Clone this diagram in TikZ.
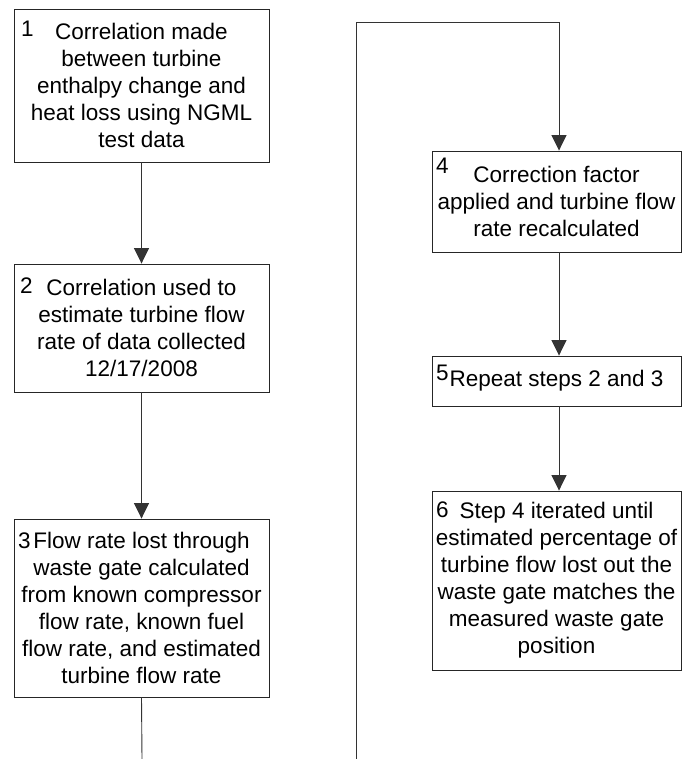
\documentclass[tikz,border=0pt]{standalone}
\usepackage{fontspec}
\setmainfont{Liberation Sans}
\usetikzlibrary{arrows.meta}
\begin{document}
\begin{tikzpicture}[x=1pt,y=-1pt,
  stepbox/.style={draw=black!85, line width=0.9pt, inner sep=0pt, align=center,
    font=\fontsize{22.5}{27}\selectfont},
  stepnum/.style={anchor=base west, inner sep=0pt, font=\fontsize{22.5}{27}\selectfont},
  flow/.style={draw=black!80, line width=0.9pt},
  arr/.style={flow, -{Triangle[width=15pt,length=15.5pt]}}]
\useasboundingbox (0,0) rectangle (682,759);

% left column
\node[stepbox, minimum width=255pt, minimum height=153pt] (b1) at (141.5,85.5)
  {Correlation made\\between turbine\\enthalpy change and\\heat loss using NGML\\test data};
\node[stepbox, minimum width=255pt, minimum height=128pt] (b2) at (141.5,328)
  {Correlation used to\\estimate turbine flow\\rate of data collected\\12/17/2008};
\node[stepbox, minimum width=255pt, minimum height=178pt] (b3) at (141.5,608)
  {Flow rate lost through\\waste gate calculated\\from known compressor\\flow rate, known fuel\\flow rate, and estimated\\turbine flow rate};

% right column
\node[stepbox, minimum width=249pt, minimum height=101pt] (b4) at (556.5,201.5)
  {Correction factor\\applied and turbine flow\\rate recalculated};
\node[stepbox, minimum width=249pt, minimum height=50pt] (b5) at (556.5,381)
  {Repeat steps 2 and 3};
\node[stepbox, minimum width=249pt, minimum height=179pt] (b6) at (556.5,580.5)
  {Step 4 iterated until\\estimated percentage of\\turbine flow lost out the\\waste gate matches the\\measured waste gate\\position};

% step numbers
\node[stepnum] (n1) at (21,37) {1};
\node[stepnum] (n2) at (20,293) {2};
\node[stepnum] (n3) at (18,548) {3};
\node[stepnum] (n4) at (436,174) {4};
\node[stepnum] (n5) at (436,380) {5};
\node[stepnum] (n6) at (436,517) {6};

% page connector coordinates
\coordinate (l0) at (142,759);
\coordinate (r0) at (356,759);
\coordinate (r1) at (356,22);
\coordinate (r2) at (559,22);

% connectors
\draw[arr] (b1.south) -- (b2.north);
\draw[arr] (b2.south) -- (b3.north);
\draw[flow] (b3.south) -- (l0);
\draw[arr] (r0) -- (r1) -- (r2) -- ([xshift=2.5pt]b4.north);
\draw[arr] ([xshift=2.5pt]b4.south) -- ([xshift=2.5pt]b5.north);
\draw[arr] ([xshift=2.5pt]b5.south) -- ([xshift=2.5pt]b6.north);
\end{tikzpicture}
\end{document}
